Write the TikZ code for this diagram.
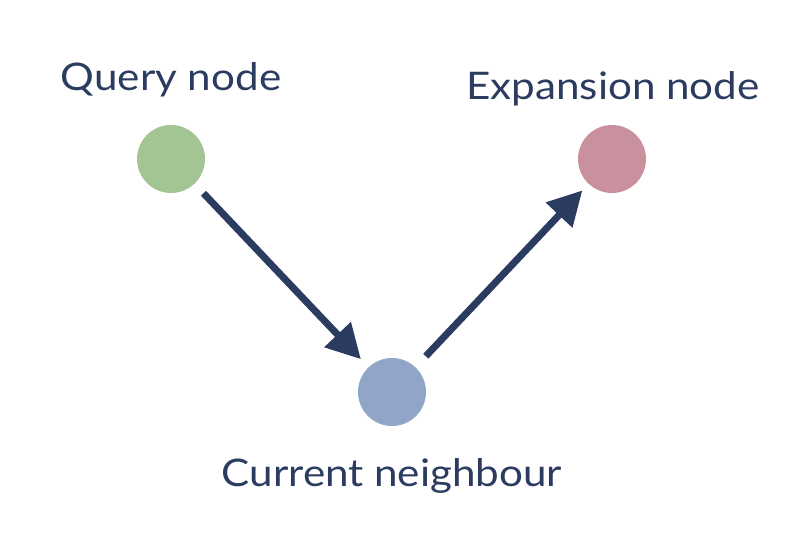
\documentclass[tikz,border=0pt]{standalone}
\usepackage{fontspec}
\setmainfont{Lato}[FakeStretch=1.11]
\usetikzlibrary{arrows.meta}
\definecolor{navy}{HTML}{2B3C60}
\definecolor{qgreen}{HTML}{A3C593}
\definecolor{cblue}{HTML}{91A5C8}
\definecolor{epink}{HTML}{C8919D}
\tikzset{
  dot/.style={circle, minimum size=68pt, inner sep=0pt, draw=none},
  lbl/.style={text=navy, font=\fontsize{38}{45}\selectfont, anchor=base, inner sep=0pt},
  conn/.style={draw=navy, line width=7pt, -{Triangle[length=34pt,width=35pt]}}
}
\begin{document}
\begin{tikzpicture}[x=1pt,y=-1pt]
\useasboundingbox (0,0) rectangle (804,536);
\node[dot, fill=qgreen] (q) at (171,159) {};
\node[dot, fill=cblue] (c) at (392,392) {};
\node[dot, fill=epink] (e) at (612,159) {};
\node[lbl] (ql) at (171,90) {Query node};
\node[lbl] (el) at (613,99) {Expansion node};
\node[lbl] (cl) at (392,486) {Current neighbour};
\draw[conn, shorten <=13pt, shorten >=11pt] (q) -- (c);
\draw[conn, shorten <=15pt, shorten >=9pt] (c) -- (e);
\end{tikzpicture}
\end{document}
